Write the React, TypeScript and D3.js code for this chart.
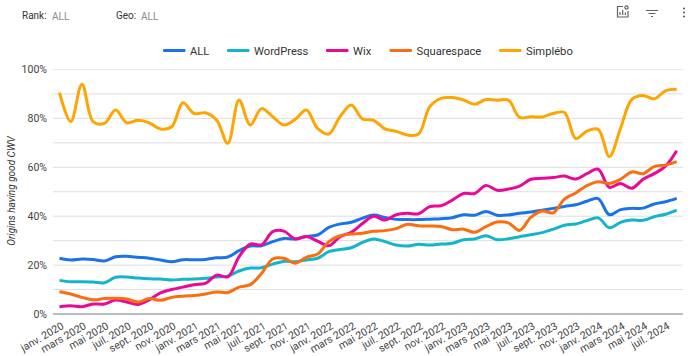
import React from "react";
import * as d3 from "d3";

const allValues = [22.8,22.1,22.5,22.3,21.7,23.4,23.6,23.2,22.8,22.1,21.4,22.2,22.2,22.3,23,23.3,25.9,27.8,27.9,29.6,30.9,30.7,31.7,32.3,35.4,36.8,37.5,39.2,40.5,39.5,38.7,38.6,38.6,38.8,39,39.4,40.6,40.4,41.9,40.4,40.5,41.2,41.7,42.4,43.2,44,44.7,46.1,47.2,40.6,42.7,43.2,43.3,45,45.9,47.3];
const wordpressValues = [13.75,13.2,13.2,13.1,12.8,15,15.1,14.7,14.4,14.3,13.9,14.2,14.3,14.6,15.1,15.5,17.6,18.8,18.9,20.4,21.5,21.4,22.1,22.8,25.5,26.4,27.1,29.3,30.7,29.6,28.2,27.8,28.5,28.2,28.6,28.9,30.4,30.7,32,30.4,30.8,31.6,32.4,33.3,34.7,36.3,36.8,38.2,39.3,35.3,37.5,38.4,38.3,39.8,40.8,42.5];
const wixValues = [3,3.4,3,4.1,4.1,5.7,4.9,3.9,5.8,8.6,10,11,12,12.5,15.9,15.2,23.4,28.6,28.3,33.7,33.9,30.7,31.7,29.8,27.9,31.6,33.4,37,40,38.4,40.6,41.2,41,43.9,44.3,46.6,49.3,49.3,52.6,50.6,51.1,52.3,55.1,55.5,55.8,56.4,55.2,57.4,59.2,51.8,53.4,51.4,55.1,57.4,60.5,66.8];
const squarespaceValues = [9.1,8.2,6.8,5.8,6.3,6.4,6.1,4.9,6.3,5.6,6.8,7.3,7.6,8.2,9,8.8,11,12,16.6,22.5,22.8,20.8,23.2,24.5,29.6,32,32.7,33,33.8,34.1,34.9,36.7,36.1,36,35.8,34.5,34.7,33.4,35.7,37.6,37.3,34.2,39.5,42.1,41.4,47,49.5,52.5,54.1,53.4,55.1,58.1,57.4,60.3,60.9,62.3];
const simpleboValues = [90.5,78.7,94,78.7,78,83.4,78.2,79.2,78.2,75.7,76.6,86.4,82,82.3,79.3,69.8,87.5,77.3,84,80.7,77.3,79.6,83.4,75.9,73.6,80.7,85.5,79.8,79.2,75.7,74.7,73.2,73.6,84.8,88.2,88.5,87.5,85.8,87.7,87.4,87.5,80.4,80.7,80.6,82,82.4,71.8,74.8,75.5,64.4,76,87.8,89.4,88,91.3,91.9];

const seriesNames = ["ALL", "WordPress", "Wix", "Squarespace", "Simplébo"];
const seriesColors = ["#1a73e8", "#12b5cb", "#e8099a", "#fa6e0f", "#ffa400"];
const seriesValues = [allValues, wordpressValues, wixValues, squarespaceValues, simpleboValues];
const monthNames = ["janv.", "févr.", "mars", "avr.", "mai", "juin", "juil.", "août", "sept.", "oct.", "nov.", "déc."];
const yTicks = [0, 20, 40, 60, 80, 100];
const yGrid = [10, 20, 30, 40, 50, 60, 70, 80, 90, 100];
const legendStarts = [163, 227, 326, 389.5, 499];
const font = "Roboto, sans-serif";

export default function App() {
  const x = d3.scaleLinear().domain([0, 55]).range([59.5, 676.7]);
  const y = d3.scaleLinear().domain([0, 100]).range([314, 69.5]);
  const line = d3.line<number>().x((_, i) => x(i)).y((d) => y(d)).curve(d3.curveCatmullRom.alpha(0.5));
  const months = d3.range(0, 55, 2);
  return (
    <svg width={700} height={356} style={{ position: "absolute", left: 0, top: 0, fontFamily: font }}>
      <rect width={700} height={356} fill="#fff" />
      <text x={22} y={19} fontSize={10} fill="#333">Rank:</text>
      <text x={52} y={19.5} fontSize={10} fill="#8a8a8a">ALL</text>
      <text x={116} y={19} fontSize={10} fill="#333">Geo:</text>
      <text x={141} y={19.5} fontSize={10} fill="#8a8a8a">ALL</text>
      {/* toolbar icons */}
      <g stroke="#5f6368" fill="none" strokeWidth={1.2}>
        <path d="M623 6.5H617.5V17H628V11" />
        <path d="M620 15V12M622.7 15V10M625.4 15V12.5" />
        <circle cx={626.5} cy={7.5} r={1.6} />
        <path d="M646 10.5H658M648.5 13.5H655.5M651 16.5H653" />
      </g>
      <g fill="#5f6368">
        <circle cx={684} cy={8.5} r={1.1} />
        <circle cx={684} cy={12.5} r={1.1} />
        <circle cx={684} cy={16.5} r={1.1} />
      </g>
      {/* legend */}
      {seriesNames.map((n, i) => (
        <g key={n}>
          <rect x={legendStarts[i]} y={49} width={22.5} height={3} rx={1} fill={seriesColors[i]} />
          <text x={legendStarts[i] + 27} y={54.5} fontSize={11.2} fill="#333">{n}</text>
        </g>
      ))}
      {/* grid */}
      {yGrid.map((t) => (
        <line key={t} x1={53} x2={683} y1={y(t)} y2={y(t)} stroke={t === 100 ? "#e8e8e8" : "#dedede"} strokeWidth={1} />
      ))}
      <line x1={53} x2={683} y1={y(0)} y2={y(0)} stroke="#777" strokeWidth={1} />
      {yTicks.map((t) => (
        <text key={t} x={47} y={y(t) + 3.8} textAnchor="end" fontSize={10.5} fill="#444">{t}%</text>
      ))}
      <text transform={`translate(15,191) rotate(-90)`} textAnchor="middle" fontSize={10} fontStyle="italic" fill="#333">Origins having good CWV</text>
      {/* x labels */}
      {months.map((m) => (
        <text key={m} transform={`translate(${x(m) + 1},${321}) rotate(-30)`} textAnchor="end" dominantBaseline="hanging" fontSize={10.5} fill="#444">
          {`${monthNames[m % 12]} ${2020 + Math.floor(m / 12)}`}
        </text>
      ))}
      {seriesValues.map((vals, i) => (
        <path key={seriesNames[i]} d={line(vals) ?? ""} fill="none" stroke={seriesColors[i]} strokeWidth={3} strokeLinejoin="round" />
      ))}
    </svg>
  );
}
